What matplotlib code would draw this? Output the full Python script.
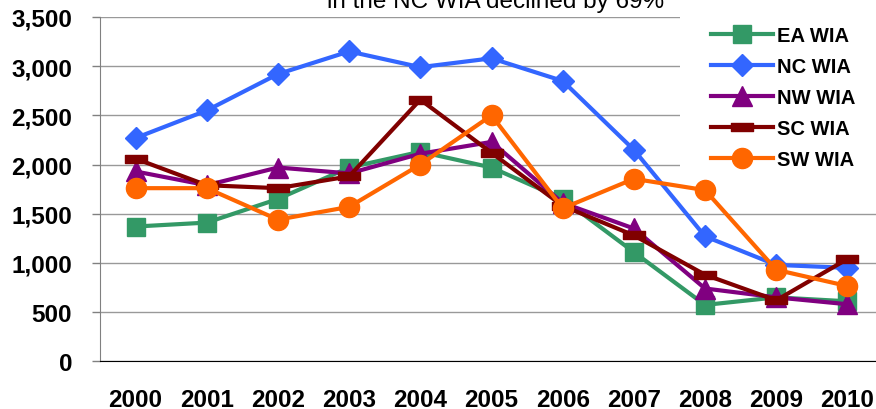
import numpy as np
import matplotlib
matplotlib.use('Agg')
import matplotlib.pyplot as plt
from matplotlib.path import Path
from matplotlib.patches import Rectangle

plt.rcParams['font.family'] = ['Liberation Sans', 'DejaVu Sans']

years = ['2000', '2001', '2002', '2003', '2004', '2005', '2006', '2007', '2008', '2009', '2010']
ea = [1370, 1410, 1650, 1970, 2130, 1970, 1650, 1110, 573, 650, 610]
nc = [2270, 2550, 2920, 3150, 2990, 3080, 2850, 2150, 1270, 980, 950]
nw = [1930, 1790, 1970, 1910, 2110, 2230, 1610, 1350, 740, 650, 580]
sc = [2060, 1790, 1760, 1880, 2660, 2120, 1580, 1280, 880, 620, 1040]
sw = [1760, 1760, 1440, 1570, 2000, 2500, 1555, 1855, 1740, 930, 765]

labels = ['EA WIA', 'NC WIA', 'NW WIA', 'SC WIA', 'SW WIA']
colors = ['#339966', '#3366FF', '#800080', '#800000', '#FF6600']

# dash marker like excel
dash = Path([(-1, -0.36), (1, -0.36), (1, 0.36), (-1, 0.36), (-1, -0.36)],
            [Path.MOVETO, Path.LINETO, Path.LINETO, Path.LINETO, Path.CLOSEPOLY])
markers = ['s', 'D', '^', dash, 'o']
msizes = [13.5, 11.5, 15, 16, 14.5]

fig = plt.figure(figsize=(8.76, 4.10), dpi=100)
ax = fig.add_axes([100 / 876, 47.7 / 410, 783 / 876, 344.3 / 410])

x = np.arange(len(years))
for vals, lab, c, m, ms in zip([ea, nc, nw, sc, sw], labels, colors, markers, msizes):
    ax.plot(x, vals, color=c, lw=3, marker=m, markersize=ms, label=lab, zorder=2)

ax.set_xlim(-0.5, 10.5)
ax.set_ylim(0, 3500)
ax.set_yticks(np.arange(0, 3501, 500))
ax.set_yticklabels([f'{v:,}' for v in range(0, 3501, 500)], fontsize=17.5, fontweight='bold')
ax.set_xticks(x)
ax.set_xticklabels(years, fontsize=17.5, fontweight='bold')
ax.tick_params(axis='x', length=0, pad=19)
ax.tick_params(axis='y', length=6, width=1, color='#808080', pad=14)
ax.yaxis.grid(True, color='#999999', lw=1)
ax.set_axisbelow(True)
for s in ['top', 'right']:
    ax.spines[s].set_visible(False)
ax.spines['left'].set_color('#808080')
ax.spines['bottom'].set_color('black')

# white box behind legend hides grid
ax.add_patch(Rectangle((680 / 876, 1 - 190 / 410), 200 / 876, 190 / 410, transform=fig.transFigure,
                       facecolor='white', edgecolor='none', zorder=1.5, clip_on=False))

leg = fig.legend(loc='upper left', bbox_to_anchor=(711 / 876, 1 - 27 / 410), frameon=False,
                 prop={'weight': 'bold', 'size': 14.5}, handlelength=3.1, handletextpad=0.2,
                 labelspacing=0.6, borderpad=0, borderaxespad=0)

fig.text(327 / 876, 1 - 8 / 410, 'in the NC WIA declined by 69%', fontsize=17.5, ha='left', va='baseline')

fig.savefig('out.png', dpi=100)
